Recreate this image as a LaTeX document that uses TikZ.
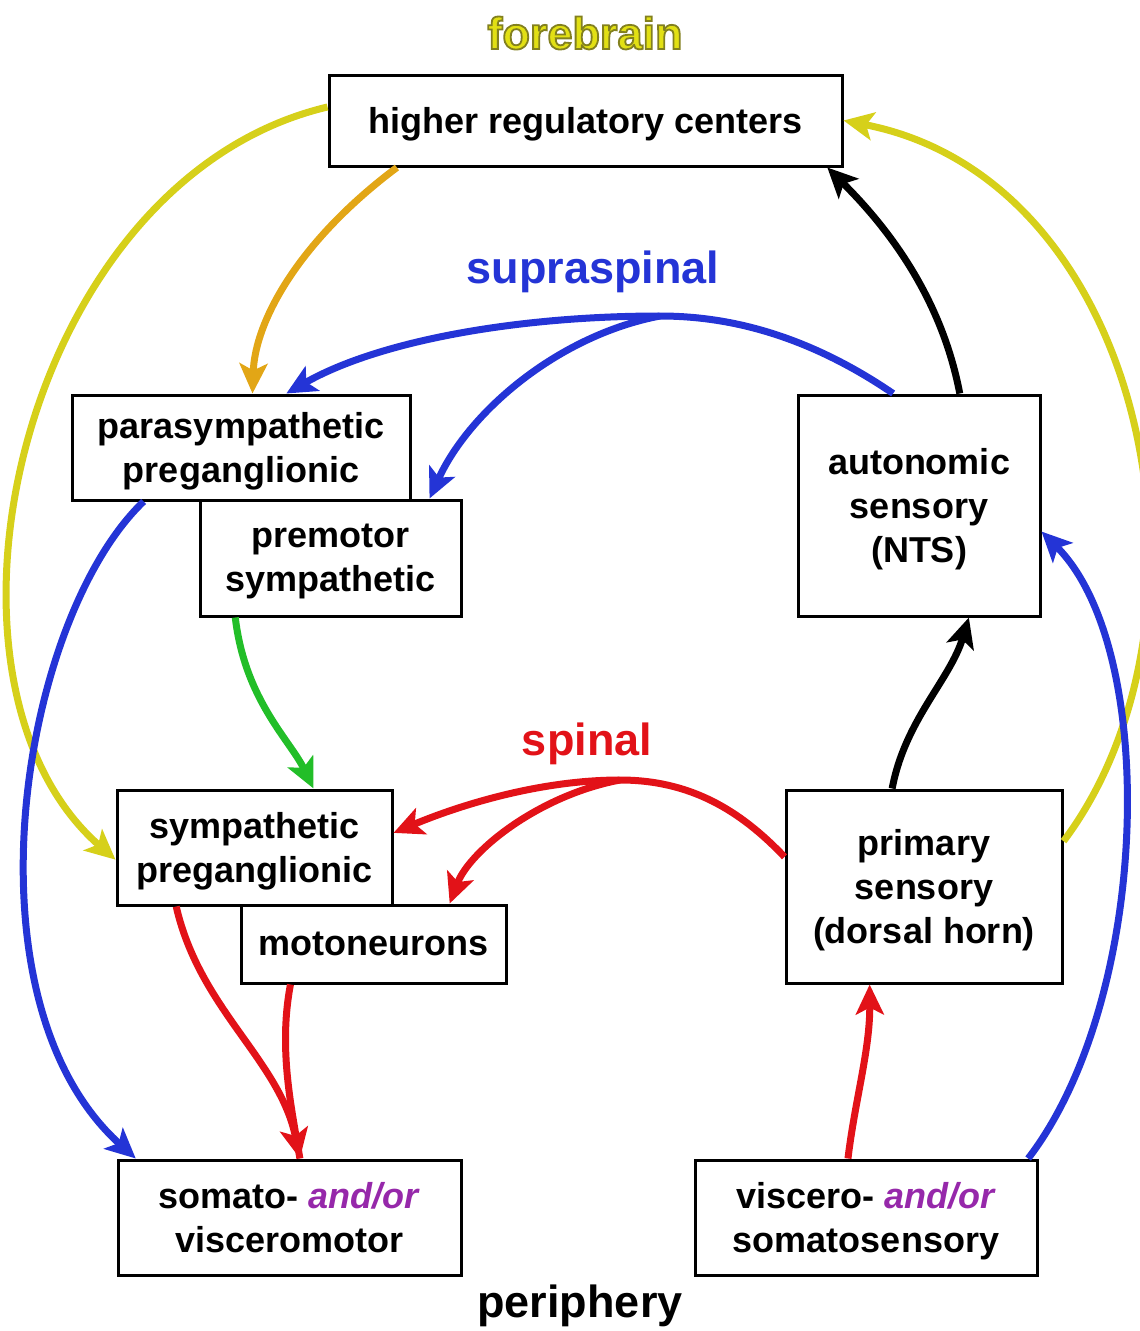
\documentclass[tikz,border=0pt]{standalone}
\usepackage{fontspec}
\setmainfont{Liberation Sans}
\newfontface\forefont[FakeBold=4]{Liberation Sans Bold}
\usetikzlibrary{arrows.meta}
\definecolor{sblue}{RGB}{36,52,214}
\definecolor{sred}{RGB}{226,18,24}
\definecolor{syel}{RGB}{214,208,26}
\definecolor{sorange}{RGB}{226,166,22}
\definecolor{sgreen}{RGB}{34,190,40}
\definecolor{andor}{RGB}{150,40,170}
\definecolor{forefill}{RGB}{226,224,20}
\newcommand{\boxfont}{\bfseries\fontsize{36}{44}\selectfont}
\newcommand{\lblfont}{\bfseries\fontsize{45}{50}\selectfont}
\newcommand{\andor}{\textcolor{andor}{\textit{and/or}}}
% yellow fill, olive stroke
\newcommand{\outlined}[1]{{\color{forefill}\special{pdf:literal 0.51 0.5 0.12 RG}#1}}

\tikzset{
  box/.style={draw, line width=3pt, fill=white, inner sep=0pt, align=center, text depth=0pt, font=\boxfont},
  lbl/.style={font=\lblfont, inner sep=0pt},
  link/.style={line width=7pt, -{Stealth[length=30pt, width=28pt, inset=7pt]}},
}

\begin{document}
\begin{tikzpicture}[x=1pt, y=-1pt]

  \useasboundingbox (0,0) rectangle (1140,1331);

  % boxes
  \node[box, minimum width=513pt, minimum height=91pt] (hrc) at (585.5,120.5) {higher regulatory centers};
  \node[box, minimum width=338pt, minimum height=105pt] (ppg) at (241,447.5) {parasympathetic\\preganglionic};
  \node[box, minimum width=261pt, minimum height=116pt] (pms) at (330.5,558) {premotor\\sympathetic};
  \node[box, minimum width=242pt, minimum height=221pt] (nts) at (919,505.5) {autonomic\\sensory\\(NTS)};
  \node[box, minimum width=275pt, minimum height=115pt] (spg) at (254.5,847.5) {sympathetic\\preganglionic};
  \node[box, minimum width=265pt, minimum height=78pt] (mtn) at (373.5,944) {motoneurons};
  \node[box, minimum width=276pt, minimum height=193pt] (psd) at (924,886.5) {primary\\sensory\\(dorsal horn)};
  \node[box, minimum width=343pt, minimum height=115pt] (svm) at (289.5,1217.5) {somato- \andor\\visceromotor};
  \node[box, minimum width=342pt, minimum height=115pt] (vss) at (866,1217.5) {viscero- \andor\\somatosensory};

  % levels
  \node[lbl, font=\forefont\fontsize{45}{50}\selectfont] (fbl) at (585,33) {\outlined{forebrain}};
  \node[lbl, text=sblue] (supl) at (593,272) {supraspinal};
  \node[lbl, text=sred] (spl) at (587,744) {spinal};
  \node[lbl] (perl) at (580,1306) {periphery};

  \coordinate (sjoin) at (660,316);
  \coordinate (rjoin) at (620,780);

  % forebrain loop
  \draw[link, syel] (hrc.177) .. controls (20,180) and (-90,680) .. (spg.185);
  \draw[link, syel] (psd.18) .. controls (1230,620) and (1150,180) .. (hrc.east);
  \draw[link, sorange] (hrc.194) .. controls (300,240) and (255,320) .. (ppg.78);
  \draw[link, black] (nts.70) .. controls (940,290) and (880,220) .. (hrc.-11);

  % supraspinal
  \draw[link, sblue] (nts.103) .. controls (800,330) and (720,316) .. (sjoin)
    .. controls (520,316) and (380,340) .. (ppg.50);
  \draw[link, sblue] (sjoin) .. controls (560,335) and (470,410) .. (pms.31);
  \draw[link, sblue] (ppg.209) .. controls (20,620) and (-40,1000) .. (svm.159);
  \draw[link, sblue] (vss.20) .. controls (1150,1000) and (1160,650) .. (nts.-12);
  \draw[link, sgreen] (pms.212) .. controls (245,700) and (290,740) .. (spg.45);
  \draw[link, black] (psd.108) .. controls (905,720) and (950,680) .. (nts.-66);

  % spinal
  \draw[link, sred] (psd.168) .. controls (740,810) and (690,780) .. (rjoin)
    .. controls (540,780) and (460,805) .. (spg.6);
  \draw[link, sred] (rjoin) .. controls (540,795) and (470,850) .. (mtn.28);
  \draw[line width=7pt, sred] (mtn.206) .. controls (278,1050) and (292,1110) .. (svm.80);
  \draw[link, sred] (spg.217) .. controls (200,1010) and (280,1060) .. (svm.80);
  \draw[link, sred] (vss.107) .. controls (855,1100) and (870,1050) .. (psd.241);

\end{tikzpicture}
\end{document}
